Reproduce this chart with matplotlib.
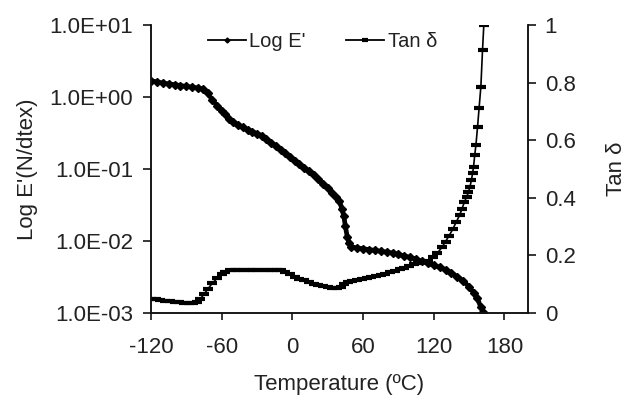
import matplotlib
matplotlib.use("Agg")
import matplotlib.pyplot as plt
import matplotlib.ticker as ticker

plt.rcParams['font.family'] = ['Liberation Sans', 'DejaVu Sans']
plt.rcParams['axes.unicode_minus'] = False

# storage modulus E' (N/dtex) vs temperature
temp_e = [-120, -115, -110, -105, -100, -95, -90, -85, -80, -76, -72, -68, -64, -60,
          -57, -54, -50, -46, -42, -38, -34, -30, -26, -22, -18, -14, -10, -6, -2,
          2, 6, 10, 14, 18, 22, 26, 30, 34, 37, 40, 42, 43.7, 45, 46.6, 48, 50,
          55, 60, 65, 70, 75, 80, 85, 90, 95, 100, 105, 110, 115, 120, 125, 130,
          135, 140, 145, 150, 154, 157, 160, 162]
e_mod = [1.68, 1.62, 1.56, 1.52, 1.48, 1.44, 1.40, 1.37, 1.33, 1.28, 1.12, 0.92, 0.76, 0.64,
         0.58, 0.50, 0.45, 0.41, 0.38, 0.35, 0.33, 0.31, 0.29, 0.26, 0.23, 0.21, 0.185, 0.166, 0.148,
         0.13, 0.118, 0.104, 0.093, 0.082, 0.072, 0.062, 0.054, 0.046, 0.041, 0.036, 0.028, 0.022,
         0.016, 0.0114, 0.0095, 0.0083,
         0.0080, 0.0078, 0.0076, 0.0074, 0.0072, 0.0070, 0.0068, 0.0065, 0.0062, 0.0059, 0.0056,
         0.0052, 0.0049, 0.0046, 0.0043, 0.0040, 0.0036, 0.0032, 0.0028, 0.0023, 0.0019, 0.0016,
         0.0012, 0.00102]

# tan delta vs temperature
temp_t = [-120, -116, -112, -108, -104, -100, -96, -92, -88, -84, -81, -78, -75, -72, -68,
          -64, -60, -57, -53, -49, -45, -41, -37, -33, -29, -25, -21, -17, -13, -10, -6,
          -2, 2, 6, 10, 14, 18, 22, 26, 30, 34, 38, 41, 44, 47, 51, 55, 59, 63, 67, 71,
          75, 79, 83, 87, 91, 95, 99, 103, 107, 111, 115, 119, 123, 127, 130, 133, 136,
          139, 142, 144, 146, 148, 149.5, 150.8, 152, 153, 153.8, 154.8, 155.8, 157.2,
          158.5, 160, 161.4, 162.5]
tan_d = [0.050, 0.047, 0.044, 0.042, 0.040, 0.038, 0.037, 0.036, 0.036, 0.036, 0.038, 0.050,
         0.065, 0.082, 0.103, 0.120, 0.135, 0.143, 0.148, 0.150, 0.150, 0.150, 0.150, 0.150,
         0.150, 0.150, 0.150, 0.150, 0.150, 0.149, 0.142, 0.134, 0.126, 0.119, 0.113, 0.107,
         0.102, 0.097, 0.093, 0.089, 0.086, 0.087, 0.090, 0.100, 0.107, 0.111, 0.114, 0.117,
         0.121, 0.125, 0.129, 0.133, 0.137, 0.142, 0.147, 0.152, 0.157, 0.164, 0.169, 0.173,
         0.177, 0.182, 0.193, 0.208, 0.228, 0.248, 0.268, 0.290, 0.315, 0.340, 0.362, 0.385,
         0.404, 0.420, 0.439, 0.462, 0.486, 0.508, 0.549, 0.583, 0.647, 0.712, 0.786, 0.913, 1.0]

ytick_e = [1e-3, 1e-2, 1e-1, 1e0, 1e1]
ytick_t = [0, 0.2, 0.4, 0.6, 0.8, 1.0]
xticks = [-120, -60, 0, 60, 120, 180]


def sci_formatter(y, pos):
    s = '{:.1E}'.format(y)
    mant, exp = s.split('E')
    return '{}E{}{:02d}'.format(mant, '+' if int(exp) >= 0 else '-', abs(int(exp)))


def tan_formatter(y, pos):
    return '{:g}'.format(round(y, 1))


fig = plt.figure(figsize=(6.27, 3.97), dpi=100)
ax = fig.add_axes([0.2408, 0.2116, 0.6013, 0.7255])
ax2 = ax.twinx()

fs = 16
tc = '#222222'

l1, = ax.plot(temp_e, e_mod, color='black', lw=3.4, marker='D', markersize=4.2,
              label="Log E'")
l2, = ax2.plot(temp_t, tan_d, color='black', lw=1.2, marker='_', markersize=6.5,
               markeredgewidth=3.0, label='Tan δ')

ax.set_yscale('log')
ax.set_ylim(1e-3, 1e1)
ax.set_xlim(-120, 200)
ax2.set_ylim(0, 1)

ax.set_xticks(xticks)
ax.set_yticks(ytick_e)
ax.yaxis.set_minor_locator(ticker.NullLocator())
ax.yaxis.set_major_formatter(ticker.FuncFormatter(sci_formatter))
ax2.set_yticks(ytick_t)
ax2.yaxis.set_major_formatter(ticker.FuncFormatter(tan_formatter))

for a in (ax, ax2):
    a.spines['top'].set_visible(False)
    for s in a.spines.values():
        s.set_linewidth(1.1)
        s.set_color('#111111')

ax.tick_params(axis='y', direction='out', length=6, width=1.1, pad=7, labelsize=fs, labelcolor=tc)
ax.tick_params(axis='x', direction='out', length=5, width=1.1, pad=12, labelsize=fs, labelcolor=tc)
ax2.tick_params(axis='y', direction='out', length=6, width=1.1, pad=6, labelsize=fs, labelcolor=tc)

ax.set_xlabel('Temperature (ºC)', fontsize=fs, color=tc, labelpad=12)
ax.set_ylabel("Log E'(N/dtex)", fontsize=fs, color=tc, labelpad=8)
ax2.set_ylabel('Tan δ', fontsize=fs, color=tc, labelpad=22)

leg = ax.legend(handles=[l1, l2], loc='upper center', bbox_to_anchor=(0.455, 1.04), ncol=2,
                frameon=False, fontsize=14.5, handlelength=1.9, handletextpad=0.15,
                columnspacing=2.0, markerscale=0.6)
for t in leg.get_texts():
    t.set_color(tc)
for h in leg.legend_handles:
    h.set_linewidth(1.3)

fig.savefig('out.png', dpi=100)
